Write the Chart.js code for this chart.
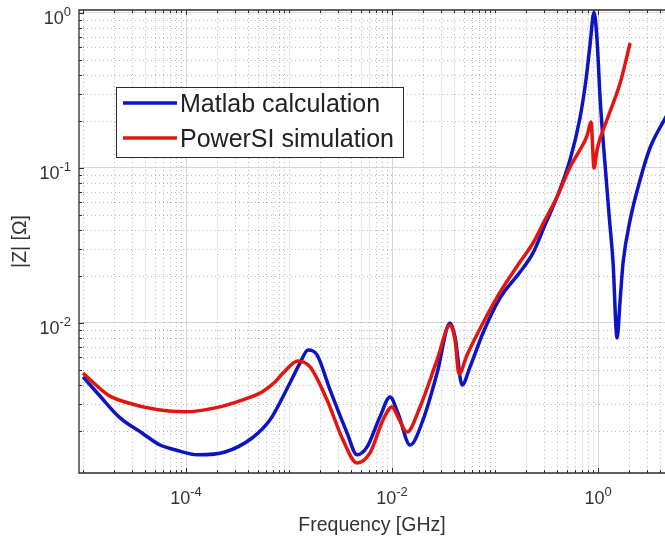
<!DOCTYPE html>
<html>
<head>
<meta charset="utf-8">
<script src="https://cdn.jsdelivr.net/npm/chart.js@4.4.1/dist/chart.umd.min.js"></script>
<style>
    html, body { margin: 0; padding: 0; background: #fff; }
    #wrap { width: 665px; height: 542px; }
</style>
</head>
<body>
<div id="wrap"><canvas id="impedanceChart" width="665" height="542"></canvas></div>
<script>
// values (frequency in GHz, |Z| in ohm)
const seriesNames = ['Matlab calculation', 'PowerSI simulation'];

const matlabFreq = [1.0e-5, 1.46e-5, 2.29e-5, 3.74e-5, 5.60e-5, 7.82e-5, 1.31e-4, 2.39e-4, 4.38e-4, 6.54e-4,
    1.02e-3, 1.28e-3, 1.53e-3, 1.87e-3, 2.50e-3, 3.66e-3, 4.57e-3, 5.71e-3, 7.64e-3, 9.57e-3,
    1.14e-2, 1.50e-2, 2.00e-2, 2.74e-2, 3.66e-2, 4.09e-2, 4.79e-2, 5.72e-2, 7.64e-2, 0.112,
    0.175, 0.234, 0.306, 0.400, 0.535, 0.668, 0.764, 0.836, 0.915, 0.978,
    1.05, 1.17, 1.28, 1.40, 1.53, 1.64, 1.75, 2.05, 2.56, 3.20, 4.68];
const matlabZ = [4.49e-3, 3.38e-3, 2.44e-3, 1.95e-3, 1.63e-3, 1.52e-3, 1.41e-3, 1.47e-3, 1.81e-3, 2.37e-3,
    4.10e-3, 5.52e-3, 6.70e-3, 6.22e-3, 3.70e-3, 1.95e-3, 1.41e-3, 1.58e-3, 2.48e-3, 3.33e-3,
    2.63e-3, 1.63e-3, 2.37e-3, 4.75e-3, 1.00e-2, 8.12e-3, 3.98e-3, 5.20e-3, 8.61e-3, 1.45e-2,
    2.13e-2, 2.83e-2, 4.29e-2, 6.50e-2, 0.113, 0.210, 0.370, 0.622, 1.01, 0.670,
    0.275, 0.105, 4.98e-2, 2.44e-2, 8.0e-3, 1.41e-2, 2.44e-2, 4.62e-2, 8.37e-2, 0.135, 0.220];

const powersiFreq = [1.0e-5, 1.75e-5, 2.56e-5, 5.35e-5, 9.78e-5, 1.91e-4, 3.50e-4, 5.47e-4, 7.31e-4, 8.75e-4,
    1.22e-3, 1.60e-3, 2.34e-3, 3.34e-3, 4.57e-3, 6.11e-3, 8.18e-3, 1.00e-2, 1.14e-2, 1.40e-2,
    1.87e-2, 2.74e-2, 3.66e-2, 4.09e-2, 4.47e-2, 5.35e-2, 7.64e-2, 0.112, 0.175, 0.234,
    0.306, 0.400, 0.535, 0.668, 0.782, 0.855, 0.915, 0.978, 1.22, 1.64, 2.05];
const powersiZ = [4.75e-3, 3.43e-3, 3.09e-3, 2.75e-3, 2.67e-3, 2.83e-3, 3.18e-3, 3.59e-3, 4.16e-3, 4.75e-3,
    5.69e-3, 5.20e-3, 3.18e-3, 1.76e-3, 1.25e-3, 1.45e-3, 2.37e-3, 2.87e-3, 2.48e-3, 1.98e-3,
    2.87e-3, 5.77e-3, 9.70e-3, 7.76e-3, 4.69e-3, 6.22e-3, 1.00e-2, 1.58e-2, 2.48e-2, 3.28e-2,
    4.62e-2, 6.50e-2, 0.101, 0.131, 0.161, 0.198, 0.100, 0.131, 0.204, 0.353, 0.640];

const xTickValues = [1e-4, 1e-2, 1];
const xTickLabels = ['10^-4', '10^-2', '10^0'];
const yTickValues = [1e-2, 1e-1, 1];
const yTickLabels = ['10^-2', '10^-1', '10^0'];
const xTitle = 'Frequency [GHz]';
const yTitle = '|Z| [Ω]';

const FONT = '"Liberation Sans", Arial, sans-serif';
const TEXT_COLOR = '#333333';
const AXIS_COLOR = '#2b2b2b';

function toPoints(xs, ys) {
    return xs.map((x, i) => ({ x: x, y: ys[i] }));
}

function minorValues(scale) {
    const out = [];
    for (let e = -7; e <= 1; e++) {
        for (let k = 1; k <= 9; k++) {
            const v = k * Math.pow(10, e);
            if (v > scale.min && v < scale.max) out.push(v);
        }
    }
    return out;
}

function drawPower(ctx, text, x, y, align) {
    const parts = text.split('^');
    ctx.font = '18px ' + FONT;
    const wb = ctx.measureText(parts[0]).width;
    ctx.font = '13px ' + FONT;
    const we = ctx.measureText(parts[1]).width;
    const total = wb + we;
    let left = align === 'right' ? x - total : x - total / 2;
    ctx.textAlign = 'left';
    ctx.textBaseline = 'middle';
    ctx.font = '18px ' + FONT;
    ctx.fillText(parts[0], left, y + 6);
    ctx.font = '13px ' + FONT;
    ctx.fillText(parts[1], left + wb, y - 1);
}

const matlabAxes = {
    id: 'matlabAxes',
    beforeDatasetsDraw(chart) {
        const { ctx, chartArea: a, scales: { x, y } } = chart;
        ctx.save();
        ctx.strokeStyle = 'rgba(60,60,60,0.35)';
        ctx.lineWidth = 1;
        ctx.setLineDash([1, 3]);
        minorValues(x).forEach(v => {
            if (xTickValues.includes(v)) return;
            const px = Math.round(x.getPixelForValue(v)) + 0.5;
            ctx.beginPath();
            ctx.moveTo(px, a.top);
            ctx.lineTo(px, a.bottom);
            ctx.stroke();
        });
        minorValues(y).forEach(v => {
            if (yTickValues.includes(v)) return;
            const py = Math.round(y.getPixelForValue(v)) + 0.5;
            ctx.beginPath();
            ctx.moveTo(a.left, py);
            ctx.lineTo(a.right, py);
            ctx.stroke();
        });
        ctx.restore();
    },
    afterDatasetsDraw(chart) {
        const { ctx, chartArea: a, scales: { x, y } } = chart;
        ctx.save();

        // axes box
        ctx.strokeStyle = AXIS_COLOR;
        ctx.lineWidth = 1.3;
        ctx.beginPath();
        ctx.moveTo(a.right + 2, a.top);
        ctx.lineTo(a.left, a.top);
        ctx.lineTo(a.left, a.bottom);
        ctx.lineTo(a.right + 2, a.bottom);
        ctx.stroke();

        // inward ticks
        ctx.lineWidth = 1;
        minorValues(x).forEach(v => {
            const len = xTickValues.includes(v) ? 5 : 3;
            const px = Math.round(x.getPixelForValue(v)) + 0.5;
            ctx.beginPath();
            ctx.moveTo(px, a.bottom);
            ctx.lineTo(px, a.bottom - len);
            ctx.moveTo(px, a.top);
            ctx.lineTo(px, a.top + len);
            ctx.stroke();
        });
        minorValues(y).forEach(v => {
            const len = yTickValues.includes(v) ? 5 : 3;
            const py = Math.round(y.getPixelForValue(v)) + 0.5;
            ctx.beginPath();
            ctx.moveTo(a.left, py);
            ctx.lineTo(a.left + len, py);
            ctx.stroke();
        });

        // tick labels
        ctx.fillStyle = TEXT_COLOR;
        xTickValues.forEach((v, i) => {
            drawPower(ctx, xTickLabels[i], x.getPixelForValue(v), a.bottom + 20, 'center');
        });
        yTickValues.forEach((v, i) => {
            drawPower(ctx, yTickLabels[i], a.left - 8, y.getPixelForValue(v), 'right');
        });

        // axis titles
        ctx.font = '19.5px ' + FONT;
        ctx.textAlign = 'center';
        ctx.textBaseline = 'middle';
        ctx.fillText(xTitle, (a.left + a.right) / 2, 526);
        ctx.save();
        ctx.translate(21, (a.top + a.bottom) / 2);
        ctx.rotate(-Math.PI / 2);
        ctx.fillText(yTitle, 0, 0);
        ctx.restore();

        // legend box
        const box = { left: 116.5, top: 87.5, width: 287, height: 70 };
        ctx.fillStyle = '#ffffff';
        ctx.fillRect(box.left, box.top, box.width, box.height);
        ctx.strokeStyle = AXIS_COLOR;
        ctx.lineWidth = 1;
        ctx.strokeRect(box.left, box.top, box.width, box.height);
        chart.data.datasets.forEach((ds, i) => {
            const ly = 103 + i * 35;
            ctx.strokeStyle = ds.borderColor;
            ctx.lineWidth = 3.5;
            ctx.beginPath();
            ctx.moveTo(123, ly);
            ctx.lineTo(177, ly);
            ctx.stroke();
            ctx.fillStyle = '#222222';
            ctx.font = '25px ' + FONT;
            ctx.textAlign = 'left';
            ctx.textBaseline = 'middle';
            ctx.fillText(ds.label, 180, ly + 2);
        });
        ctx.restore();
    }
};

const ctx = document.getElementById('impedanceChart');

new Chart(ctx, {
    type: 'line',
    data: {
        datasets: [
            {
                label: seriesNames[0],
                data: toPoints(matlabFreq, matlabZ),
                borderColor: '#0d14c4',
                borderWidth: 3.5,
                pointRadius: 0,
                cubicInterpolationMode: 'monotone',
                clip: 0,
                order: 1
            },
            {
                label: seriesNames[1],
                data: toPoints(powersiFreq, powersiZ),
                borderColor: '#e3150f',
                borderWidth: 3.5,
                pointRadius: 0,
                cubicInterpolationMode: 'monotone',
                clip: 0,
                order: 0
            }
        ]
    },
    options: {
        responsive: false,
        animation: false,
        devicePixelRatio: 1,
        layout: {
            padding: { left: 79, top: 10, right: 0, bottom: 69 }
        },
        plugins: {
            legend: { display: false },
            tooltip: { enabled: false }
        },
        scales: {
            x: {
                type: 'logarithmic',
                min: 9.14e-6,
                max: 4.47,
                afterBuildTicks: scale => {
                    scale.ticks = xTickValues.map(v => ({ value: v }));
                },
                ticks: { display: false },
                grid: { color: '#d6d6d6', lineWidth: 1, drawTicks: false },
                border: { display: false }
            },
            y: {
                type: 'logarithmic',
                min: 1.076e-3,
                max: 1.045,
                afterBuildTicks: scale => {
                    scale.ticks = yTickValues.map(v => ({ value: v }));
                },
                ticks: { display: false },
                grid: { color: '#d6d6d6', lineWidth: 1, drawTicks: false },
                border: { display: false }
            }
        }
    },
    plugins: [matlabAxes]
});
</script>
</body>
</html>
